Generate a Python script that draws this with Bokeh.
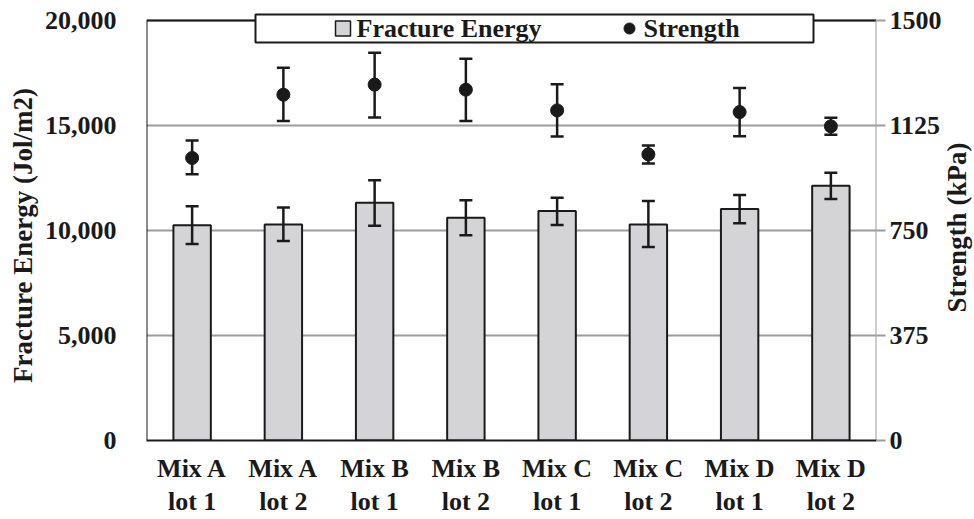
import math
from bokeh.plotting import figure
from bokeh.models import (ColumnDataSource, FactorRange, Range1d, LinearAxis, FixedTicker,
                          NumeralTickFormatter, Whisker, TeeHead, Label)
from bokeh.core.properties import value
from bokeh.embed import file_html
from bokeh.resources import INLINE

categories = ["Mix A\nlot 1", "Mix A\nlot 2", "Mix B\nlot 1", "Mix B\nlot 2",
              "Mix C\nlot 1", "Mix C\nlot 2", "Mix D\nlot 1", "Mix D\nlot 2"]
fracture_energy = [10250, 10290, 11320, 10610, 10930, 10290, 11020, 12130]
fe_upper = [11160, 11090, 12390, 11440, 11560, 11400, 11690, 12750]
fe_lower = [9360, 9500, 10230, 9770, 10260, 9210, 10340, 11500]
strength = [1009, 1235, 1271, 1253, 1179, 1022, 1173, 1122]
st_upper = [1071, 1331, 1385, 1363, 1272, 1054, 1259, 1153]
st_lower = [951, 1141, 1154, 1141, 1086, 989, 1087, 1092]
left_ticks = [0, 5000, 10000, 15000, 20000]
right_ticks = [0, 375, 750, 1125, 1500]
series_names = ["Fracture Energy", "Strength"]
left_title = "Fracture Energy (Jol/m2)"
right_title = "Strength (kPa)"

FONT = "Liberation Serif"
INK = "#1a1a1a"
GRID = "#9c9c9c"
BAR = "#d4d4d6"

# frame geometry (pixels); the plot-area top edge (20000 / 1500) sits 8px below the frame top
# so that the boxed legend can straddle it
W, H = 974, 519
FL, FR, FT, FB = 146, 876, 12, 440
TOP_PX = 20
LEFT_MAX, RIGHT_MAX = left_ticks[-1], right_ticks[-1]
y_end = LEFT_MAX * (FB - FT) / (FB - TOP_PX)
y2_end = RIGHT_MAX * (FB - FT) / (FB - TOP_PX)
N = len(categories)

def xd(px):
    return (px - FL) / (FR - FL) * N

def yd(py):
    return (FB - py) * y_end / (FB - FT)

src = ColumnDataSource(dict(cat=categories, fe=fracture_energy, fe_up=fe_upper, fe_lo=fe_lower,
                            st=strength, st_up=st_upper, st_lo=st_lower))

p = figure(width=W, height=H, x_range=FactorRange(*categories, range_padding=0),
           y_range=Range1d(0, y_end), output_backend="svg", toolbar_location=None,
           min_border_left=FL, min_border_right=W - FR, min_border_top=FT, min_border_bottom=H - FB)
p.extra_y_ranges = {"strength": Range1d(0, y2_end)}
p.outline_line_color = None
p.background_fill_color = "white"
p.border_fill_color = "white"

# grid
p.xgrid.grid_line_color = None
p.ygrid.ticker = FixedTicker(ticks=left_ticks)
p.ygrid.grid_line_color = GRID
p.ygrid.grid_line_width = 2

# plot-area border: left & top black, right grey (secondary axis line)
p.segment(x0=[0, 0], y0=[0, LEFT_MAX], x1=[0, N], y1=[LEFT_MAX, LEFT_MAX],
          line_color=INK, line_width=2)
p.segment(x0=[N], y0=[0], x1=[N], y1=[LEFT_MAX], line_color=GRID, line_width=2)

bars = p.vbar(x="cat", top="fe", width=0.41, source=src, fill_color=BAR,
              line_color=INK, line_width=2)
p.add_layout(Whisker(base="cat", upper="fe_up", lower="fe_lo", source=src, level="overlay",
                     line_color=INK, line_width=2.5,
                     upper_head=TeeHead(size=13, line_color=INK, line_width=2.5),
                     lower_head=TeeHead(size=13, line_color=INK, line_width=2.5)))
p.add_layout(Whisker(base="cat", upper="st_up", lower="st_lo", source=src, y_range_name="strength",
                     level="overlay", line_color=INK, line_width=2.5,
                     upper_head=TeeHead(size=13, line_color=INK, line_width=2.5),
                     lower_head=TeeHead(size=13, line_color=INK, line_width=2.5)))
pts = p.scatter(x="cat", y="st", source=src, y_range_name="strength", size=13,
                fill_color=INK, line_color=INK)

# boxed legend across the top border
p.quad(left=[xd(255)], right=[xd(813)], bottom=[yd(42)], top=[yd(14)],
       fill_color="white", line_color=INK, line_width=2)
p.scatter(x=[xd(342.5)], y=[yd(28)], marker="square", size=15, fill_color=BAR,
          line_color=INK, line_width=1.5)
p.scatter(x=[xd(629)], y=[yd(28)], marker="circle", size=11, fill_color=INK, line_color=INK)
p.text(x=[xd(356), xd(643)], y=[yd(28), yd(28)], text=series_names,
       text_font=value(FONT), text_font_style="bold", text_font_size="26px",
       text_color=INK, text_align="left", text_baseline="middle")

# left axis
ya = p.yaxis[0]
ya.ticker = FixedTicker(ticks=left_ticks)
ya.formatter = NumeralTickFormatter(format="0,0")
ya.axis_line_color = None
ya.major_tick_line_color = None
ya.minor_tick_line_color = None
ya.major_label_standoff = 24
ya.major_label_text_font = FONT
ya.major_label_text_font_style = "bold"
ya.major_label_text_font_size = "26px"
ya.major_label_text_color = INK

# left axis title, reading bottom-to-top, in the left side panel
p.add_layout(Label(x=xd(22), y=yd(235), text=left_title, angle=math.pi / 2,
                   text_font=FONT, text_font_style="bold", text_font_size="27px",
                   text_color=INK, text_align="center", text_baseline="middle"), "left")

# right axis
ra = LinearAxis(y_range_name="strength", ticker=FixedTicker(ticks=right_ticks))
ra.axis_line_color = None
ra.major_tick_line_color = GRID
ra.major_tick_line_width = 2
ra.major_tick_out = 9
ra.major_tick_in = 0
ra.minor_tick_line_color = None
ra.major_label_standoff = 4
ra.major_label_text_font = FONT
ra.major_label_text_font_style = "bold"
ra.major_label_text_font_size = "26px"
ra.major_label_text_color = INK
p.add_layout(ra, "right")

# right axis title, reading bottom-to-top, in the right side panel (outside the frame clip)
p.add_layout(Label(x=xd(956), y=yd(227), text=right_title, angle=math.pi / 2,
                   text_font=FONT, text_font_style="bold", text_font_size="27px",
                   text_color=INK, text_align="center", text_baseline="middle"), "right")

# bottom axis
xa = p.xaxis[0]
xa.axis_line_color = INK
xa.axis_line_width = 2
xa.major_tick_line_color = None
xa.minor_tick_line_color = None
xa.major_label_standoff = 7
xa.major_label_text_font = FONT
xa.major_label_text_font_style = "bold"
xa.major_label_text_font_size = "26px"
xa.major_label_text_color = INK
xa.major_label_text_line_height = 1.15

open("out.html", "w").write(file_html(p, INLINE))
